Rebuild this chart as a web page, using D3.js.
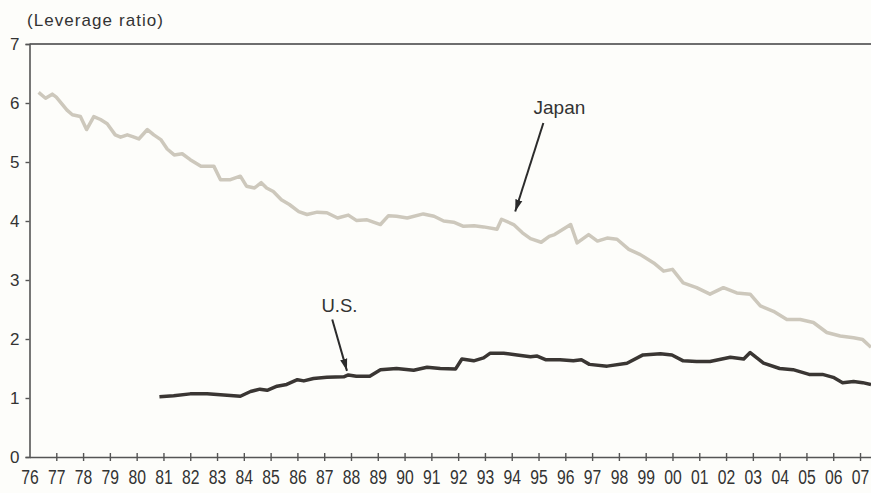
<!DOCTYPE html>
<html>
<head>
	<title></title>
	<meta charset="utf-8">
	<script src="https://d3js.org/d3.v7.min.js"></script>
	<style>
		body { margin: 0; background: #fdfdfa; }
		text { font-family: "Liberation Sans", Arial, sans-serif; fill: #333; }
	</style>
</head>
<body>

	<script type="text/javascript">

		// years on the axis, 76 .. 07
		var years = d3.range(1976, 2008)
		var yTicks = [0, 1, 2, 3, 4, 5, 6, 7]

		// [year, leverage ratio]
		var japan = [
			[1976.34, 6.18], [1976.6, 6.08], [1976.85, 6.15], [1977.0, 6.10], [1977.4, 5.88],
			[1977.6, 5.80], [1977.9, 5.77], [1978.13, 5.55], [1978.4, 5.77], [1978.65, 5.72],
			[1978.9, 5.65], [1979.2, 5.46], [1979.4, 5.42], [1979.65, 5.46], [1979.85, 5.43],
			[1980.08, 5.39], [1980.4, 5.55], [1980.64, 5.46], [1980.9, 5.38], [1981.14, 5.22],
			[1981.4, 5.12], [1981.7, 5.14], [1982.0, 5.04], [1982.4, 4.93], [1982.63, 4.93],
			[1982.88, 4.93], [1983.13, 4.70], [1983.5, 4.70], [1983.87, 4.76], [1984.1, 4.59],
			[1984.4, 4.56], [1984.65, 4.65], [1984.85, 4.56], [1985.1, 4.50], [1985.4, 4.36],
			[1985.7, 4.28], [1986.05, 4.16], [1986.36, 4.11], [1986.74, 4.15], [1987.1, 4.14],
			[1987.5, 4.05], [1987.9, 4.10], [1988.2, 4.01], [1988.6, 4.02], [1989.1, 3.94],
			[1989.4, 4.09], [1989.7, 4.08], [1990.1, 4.05], [1990.7, 4.12], [1991.1, 4.08],
			[1991.46, 4.00], [1991.83, 3.98], [1992.2, 3.91], [1992.6, 3.92], [1992.95, 3.90],
			[1993.45, 3.86], [1993.62, 4.03], [1994.07, 3.94], [1994.4, 3.80], [1994.7, 3.70],
			[1995.1, 3.64], [1995.4, 3.74], [1995.6, 3.77], [1996.2, 3.94], [1996.44, 3.63],
			[1996.87, 3.77], [1997.2, 3.66], [1997.56, 3.71], [1997.93, 3.69], [1998.37, 3.52],
			[1998.8, 3.43], [1999.3, 3.29], [1999.67, 3.15], [2000.0, 3.18], [2000.4, 2.95],
			[2000.9, 2.87], [2001.4, 2.76], [2001.9, 2.87], [2002.4, 2.78], [2002.9, 2.76],
			[2003.28, 2.56], [2003.77, 2.47], [2004.27, 2.33], [2004.77, 2.33], [2005.26, 2.28],
			[2005.76, 2.11], [2006.26, 2.05], [2006.76, 2.02], [2007.1, 1.99], [2007.41, 1.86]
		]

		var us = [
			[1980.85, 1.02], [1981.38, 1.04], [1982.0, 1.07], [1982.63, 1.07], [1983.25, 1.05],
			[1983.87, 1.03], [1984.25, 1.11], [1984.6, 1.15], [1984.87, 1.13], [1985.24, 1.20],
			[1985.6, 1.23], [1986.0, 1.31], [1986.24, 1.29], [1986.6, 1.33], [1987.1, 1.35],
			[1987.73, 1.36], [1987.9, 1.39], [1988.2, 1.37], [1988.7, 1.37], [1989.1, 1.48],
			[1989.7, 1.50], [1990.34, 1.47], [1990.84, 1.52], [1991.33, 1.50], [1991.9, 1.49],
			[1992.14, 1.66], [1992.58, 1.63], [1992.95, 1.68], [1993.2, 1.76], [1993.7, 1.76],
			[1994.2, 1.73], [1994.7, 1.70], [1994.95, 1.71], [1995.26, 1.65], [1995.8, 1.65],
			[1996.3, 1.63], [1996.6, 1.65], [1996.9, 1.57], [1997.56, 1.54], [1998.3, 1.59],
			[1998.9, 1.73], [1999.55, 1.75], [1999.98, 1.73], [2000.4, 1.63], [2000.9, 1.62],
			[2001.4, 1.62], [2002.16, 1.69], [2002.66, 1.66], [2002.9, 1.77], [2003.4, 1.59],
			[2004.0, 1.50], [2004.5, 1.48], [2005.1, 1.40], [2005.6, 1.40], [2006.0, 1.35],
			[2006.35, 1.26], [2006.76, 1.28], [2007.1, 1.26], [2007.41, 1.23]
		]

		// labels with their arrows: text spot, arrow tail, arrow tip (in data units)
		var notes = [
			{name: "Japan", text: [1995.78, 5.81], from: [1995.18, 5.66], to: [1994.13, 4.16]},
			{name: "U.S.", text: [1987.57, 2.45], from: [1987.3, 2.33], to: [1987.85, 1.46]}
		]

		var width = 871, height = 493

		var svg = d3.select("body").append("svg")
			.attr("width", width)
			.attr("height", height)

		var x = d3.scaleLinear().domain([1976, 2007.41]).range([29.5, width])
		var y = d3.scaleLinear().domain([0, 7]).range([457, 44])

		svg.append("defs").append("marker")
			.attr("id", "head")
			.attr("viewBox", "0 0 10 10")
			.attr("refX", 10)
			.attr("refY", 5)
			.attr("markerWidth", 12)
			.attr("markerHeight", 12)
			.attr("markerUnits", "userSpaceOnUse")
			.attr("orient", "auto")
			.append("path")
			.attr("d", "M0,2 L10,5 L0,8 Z")
			.attr("fill", "#2b2b2b")

		// frame line on top
		svg.append("line")
			.attr("x1", x(1976)).attr("x2", width)
			.attr("y1", y(7)).attr("y2", y(7))
			.attr("stroke", "#6e6e6e")
			.attr("stroke-width", 2)

		// y axis
		var yAxis = svg.append("g")
			.attr("transform", "translate(" + x(1976) + ",0)")
			.call(d3.axisLeft(y).tickValues(yTicks).tickSize(4).tickPadding(6)
				.tickFormat(d3.format("d")))
		yAxis.select(".domain").attr("stroke", "#555").attr("stroke-width", 1.6)
		yAxis.selectAll(".tick line").attr("stroke", "#555").attr("stroke-width", 1.4)
		yAxis.selectAll(".tick text")
			.style("font-size", "17px")
			.attr("x", -10)
			.attr("dy", "0.35em")

		// x axis, ticks go through the line
		var xAxis = svg.append("g")
			.attr("transform", "translate(0," + y(0) + ")")
			.call(d3.axisBottom(x).tickValues(years).tickSize(0)
				.tickFormat(function (d) { return d3.format("02d")(d % 100) }))
		xAxis.select(".domain").attr("stroke", "#555").attr("stroke-width", 1.6)
		xAxis.selectAll(".tick line")
			.attr("y1", -4).attr("y2", 4)
			.attr("stroke", "#555").attr("stroke-width", 1.4)
			.filter(function (d) { return d === 1976 }).remove()
		xAxis.selectAll(".tick text")
			.style("font-size", "20px")
			.attr("y", 27)
			.attr("dy", 0)
			.attr("textLength", 17.5)
			.attr("lengthAdjust", "spacingAndGlyphs")

		svg.append("text")
			.attr("x", 27)
			.attr("y", 26)
			.style("font-size", "17px")
			.attr("textLength", 136)
			.text("(Leverage ratio)")

		var line = d3.line()
			.x(function (d) { return x(d[0]) })
			.y(function (d) { return y(d[1]) })

		svg.append("path")
			.datum(japan)
			.attr("d", line)
			.attr("fill", "none")
			.attr("stroke", "#cdc8bc")
			.attr("stroke-width", 3.5)
			.attr("stroke-linejoin", "round")

		svg.append("path")
			.datum(us)
			.attr("d", line)
			.attr("fill", "none")
			.attr("stroke", "#3a3633")
			.attr("stroke-width", 3.5)
			.attr("stroke-linejoin", "round")

		svg.selectAll(".arrow")
			.data(notes)
			.enter().append("line")
			.attr("class", "arrow")
			.attr("x1", function (d) { return x(d.from[0]) })
			.attr("y1", function (d) { return y(d.from[1]) })
			.attr("x2", function (d) { return x(d.to[0]) })
			.attr("y2", function (d) { return y(d.to[1]) })
			.attr("stroke", "#2b2b2b")
			.attr("stroke-width", 2)
			.attr("marker-end", "url(#head)")

		svg.selectAll(".note")
			.data(notes)
			.enter().append("text")
			.attr("class", "note")
			.attr("x", function (d) { return x(d.text[0]) })
			.attr("y", function (d) { return y(d.text[1]) })
			.attr("text-anchor", "middle")
			.style("font-size", function (d) { return d.name === "Japan" ? "19px" : "18.5px" })
			.text(function (d) { return d.name })

	</script>

</body>
</html>
